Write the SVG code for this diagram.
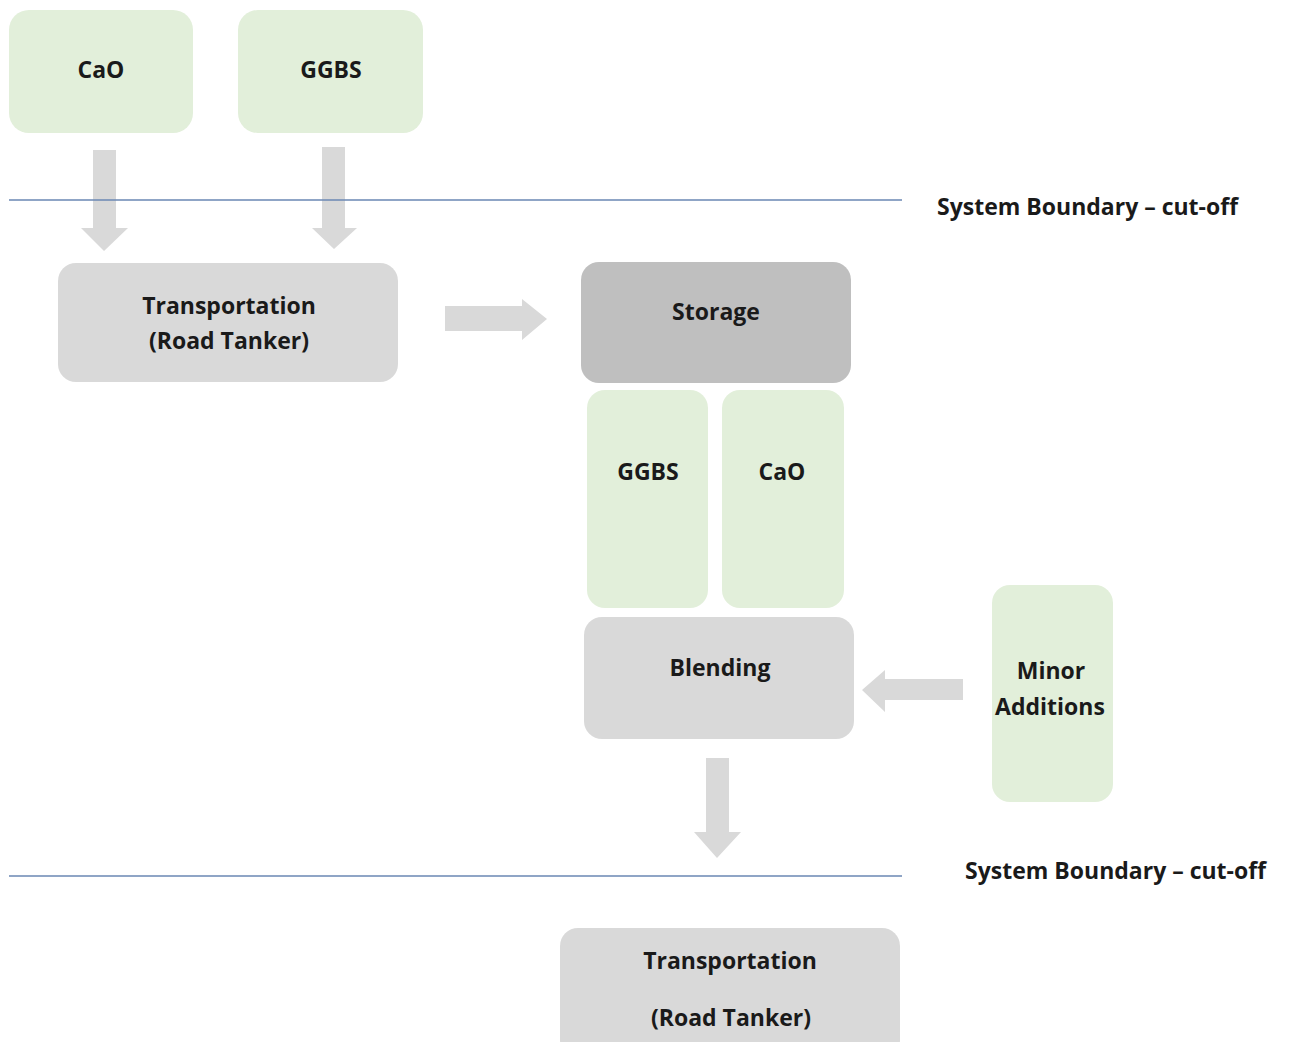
<svg xmlns="http://www.w3.org/2000/svg" width="1291" height="1042" viewBox="0 0 1291 1042">
<style>
text{font-family:"Open Sans","Noto Sans","Liberation Sans",sans-serif;font-weight:700;fill:#1a1a1a;text-anchor:middle;font-size:23px}
.green{fill:#e2efda}
.grey{fill:#d9d9d9}
.dark{fill:#bfbfbf}
.arrow{fill:#d9d9d9}
.bound{stroke:#6a87b3;stroke-width:1.5}
.lbl{text-anchor:start}
</style>
<rect width="1291" height="1042" fill="#ffffff"/>
<g id="connectors">
<polygon class="arrow" points="93,150 116,150 116,228 128,228 104,251 81,228 93,228"/>
<polygon class="arrow" points="322,147 345,147 345,228 357,228 334,249 312,228 322,228"/>
<polygon class="arrow" points="445,306 522,306 522,299 547,319 522,340 522,331 445,331"/>
<polygon class="arrow" points="963,679 885,679 885,670 862,690 885,712 885,700 963,700"/>
<polygon class="arrow" points="706,758 729,758 729,832 741,832 717,858 694,832 706,832"/>
</g>
<g id="boundary-top">
<line class="bound" x1="9" y1="200" x2="902" y2="200"/>
<text class="lbl" x="937" y="215">System Boundary – cut-off</text>
</g>
<g id="boundary-bottom">
<line class="bound" x1="9" y1="876" x2="902" y2="876"/>
<text class="lbl" x="965" y="879">System Boundary – cut-off</text>
</g>
<g id="cao-top"><rect class="green" x="9" y="10" width="184" height="123" rx="20"/><text x="101" y="78">CaO</text></g>
<g id="ggbs-top"><rect class="green" x="238" y="10" width="185" height="123" rx="20"/><text x="331" y="78">GGBS</text></g>
<g id="transport-1"><rect class="grey" x="58" y="263" width="340" height="119" rx="18"/><text x="229" y="314">Transportation</text><text x="229" y="349">(Road Tanker)</text></g>
<g id="storage"><rect class="dark" x="581" y="262" width="270" height="121" rx="18"/><text x="716" y="320">Storage</text></g>
<g id="ggbs-store"><rect class="green" x="587" y="390" width="121" height="218" rx="18"/><text x="648" y="480">GGBS</text></g>
<g id="cao-store"><rect class="green" x="722" y="390" width="122" height="218" rx="18"/><text x="782" y="480">CaO</text></g>
<g id="blending"><rect class="grey" x="584" y="617" width="270" height="122" rx="18"/><text x="720" y="676">Blending</text></g>
<g id="minor"><rect class="green" x="992" y="585" width="121" height="217" rx="18"/><text x="1051" y="679">Minor</text><text x="1050" y="715">Additions</text></g>
<g id="transport-2"><rect class="grey" x="560" y="928" width="340" height="130" rx="18"/><text x="730" y="969">Transportation</text><text x="731" y="1026">(Road Tanker)</text></g>
</svg>
